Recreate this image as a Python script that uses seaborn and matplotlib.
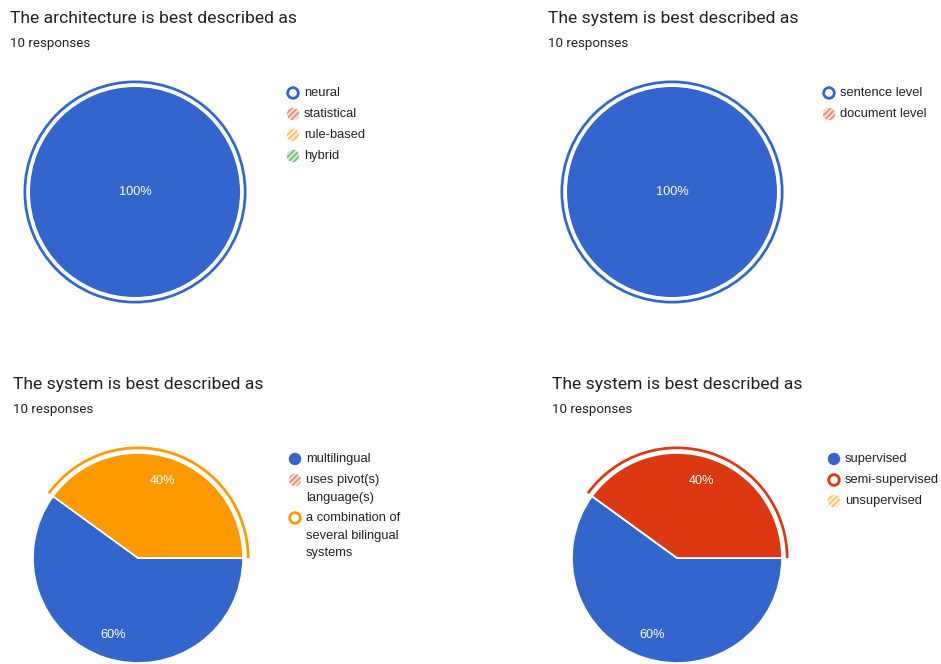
import matplotlib
matplotlib.use("Agg")
import matplotlib.pyplot as plt
from matplotlib.patches import Circle
import seaborn as sns

sns.set_theme(style="white")
plt.rcParams['font.family'] = ['Roboto', 'DejaVu Sans']
plt.rcParams['hatch.linewidth'] = 1.3

BLUE, RED, ORANGE, GREEN = "#3366cc", "#dc3912", "#ff9900", "#109618"
# pale tints used for the striped legend swatches
PALE = {BLUE: "#dce5f6", RED: "#fbe0d9", ORANGE: "#fff0d6", GREEN: "#d6ecd8"}
MID = {BLUE: "#85a3e0", RED: "#ec8c74", ORANGE: "#ffc266", GREEN: "#70c078"}

# Survey answers (counts out of 10 responses)
arch_labels = ["neural", "statistical", "rule-based", "hybrid"]
arch_values = [10, 0, 0, 0]
arch_colors = [BLUE, RED, ORANGE, GREEN]

level_labels = ["sentence level", "document level"]
level_values = [10, 0]
level_colors = [BLUE, RED]

lang_labels = ["multilingual", "uses pivot(s)\nlanguage(s)",
               "a combination of\nseveral bilingual\nsystems"]
lang_values = [6, 0, 4]
lang_colors = [BLUE, RED, ORANGE]

sup_labels = ["supervised", "semi-supervised", "unsupervised"]
sup_values = [6, 4, 0]
sup_colors = [BLUE, RED, ORANGE]

titles = ["The architecture is best described as",
          "The system is best described as",
          "The system is best described as",
          "The system is best described as"]
n_responses = "10 responses"

W, H = 941, 664
R = 105  # pie radius in pixels

fig = plt.figure(figsize=(W / 100, H / 100), dpi=100)
fig.patch.set_facecolor("white")

# Full-figure overlay in pixel coordinates for titles and legends
ov = fig.add_axes([0, 0, 1, 1])
ov.set_xlim(0, W)
ov.set_ylim(H, 0)
ov.axis("off")

panels = [
    dict(labels=arch_labels, values=arch_values, colors=arch_colors,
         title=titles[0], tx=10, ty=17, cx=135, cy=192,
         lx=293, ly=93, hollow=0, filled=[]),
    dict(labels=level_labels, values=level_values, colors=level_colors,
         title=titles[1], tx=548, ty=17, cx=672, cy=192,
         lx=829, ly=93, hollow=0, filled=[]),
    dict(labels=lang_labels, values=lang_values, colors=lang_colors,
         title=titles[2], tx=13, ty=383, cx=138, cy=558,
         lx=295, ly=459, hollow=2, filled=[0]),
    dict(labels=sup_labels, values=sup_values, colors=sup_colors,
         title=titles[3], tx=552, ty=383, cx=677, cy=558,
         lx=834, ly=459, hollow=1, filled=[0]),
]

HALF = 125  # half-size of each pie axes in pixels
L = HALF / R

for p in panels:
    ov.text(p["tx"], p["ty"] + 1.5, p["title"], fontsize=12.6, color="#202124",
            va="center", ha="left", family=["Roboto", "DejaVu Sans"])
    ov.text(p["tx"], p["ty"] + 26.5, n_responses, fontsize=9.6, color="#202124",
            va="center", ha="left", family=["Roboto", "DejaVu Sans"])

    ax = fig.add_axes([(p["cx"] - HALF) / W, (H - p["cy"] - HALF) / H,
                       2 * HALF / W, 2 * HALF / H])
    ax.set_aspect("equal")
    ax.axis("off")

    total = sum(p["values"])
    full = max(p["values"]) == total

    def pct(v):
        return f"{v:.0f}%" if v > 0.5 else ""

    ax.pie(
        p["values"], colors=p["colors"], startangle=144, counterclock=True,
        radius=1, autopct=pct, pctdistance=0 if full else 0.77,
        wedgeprops=dict(edgecolor="white", linewidth=1.2 if not full else 0),
        textprops=dict(color="white", fontsize=9.2,
                       family=["Liberation Sans", "DejaVu Sans"]))

    # highlight ring around the selected answer
    ring_colors = ["none"] * len(p["values"])
    ring_colors[p["hollow"]] = p["colors"][p["hollow"]]
    ax.pie(p["values"], colors=ring_colors, startangle=144, counterclock=True,
           radius=1.062, wedgeprops=dict(width=0.026, edgecolor="none"))
    ax.set_xlim(-L, L)
    ax.set_ylim(-L, L)

    # legend
    y = p["ly"]
    for i, (lab, col) in enumerate(zip(p["labels"], p["colors"])):
        if i == p["hollow"]:
            c = Circle((p["lx"], y), 5.3, facecolor="white", edgecolor=col,
                       linewidth=2.0)
        elif i in p["filled"]:
            c = Circle((p["lx"], y), 6.2, facecolor=col, edgecolor="none")
        else:
            c = Circle((p["lx"], y), 6.2, facecolor=PALE[col],
                       edgecolor=MID[col], hatch="//////", linewidth=0)
        ov.add_patch(c)
        ov.text(p["lx"] + 11, y - 5.6, lab, fontsize=9.3, color="#222222",
                va="top", ha="left", linespacing=1.58,
                family=["Liberation Sans", "DejaVu Sans"])
        nlines = lab.count("\n") + 1
        y += 21 + (nlines - 1) * 17

fig.savefig("out.png", dpi=100, facecolor="white")
